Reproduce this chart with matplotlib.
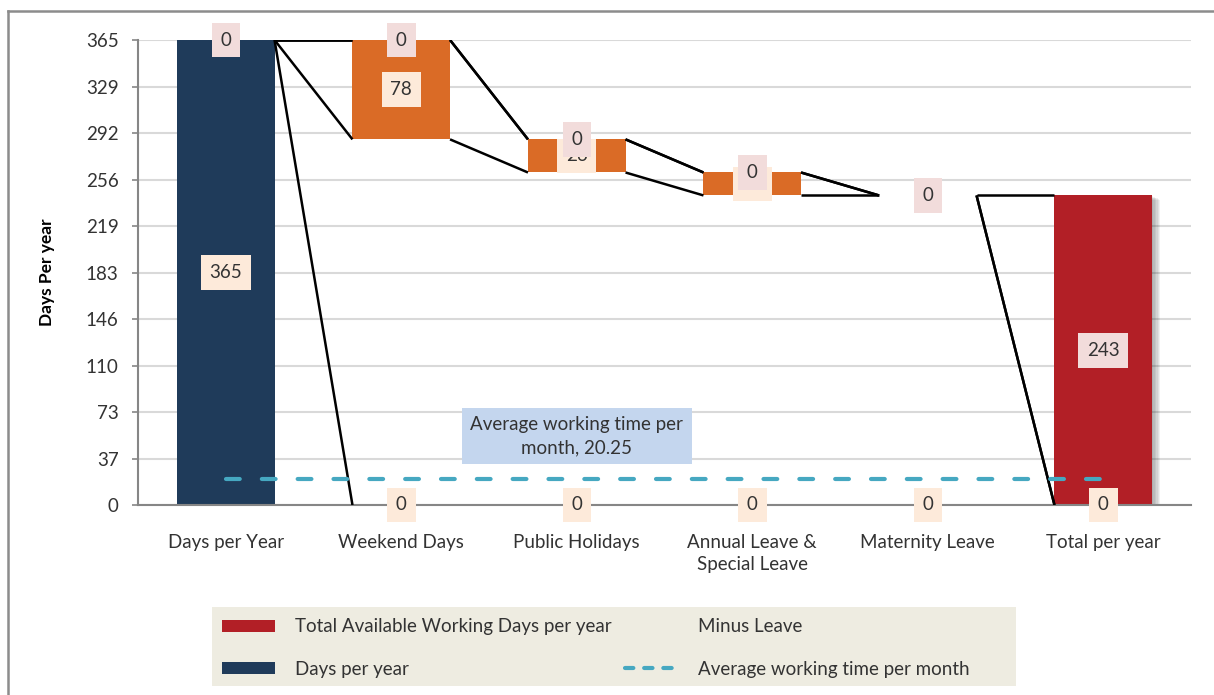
import numpy as np
import matplotlib
matplotlib.use("Agg")
import matplotlib.pyplot as plt
from matplotlib.patches import Patch, Rectangle
from matplotlib.lines import Line2D
import matplotlib.patheffects as pe

plt.rcParams['font.family'] = ['Lato', 'DejaVu Sans']

# chart data
categories = ["Days per Year", "Weekend Days", "Public Holidays",
              "Annual Leave &\nSpecial Leave", "Maternity Leave", "Total per year"]
days_per_year = [365, 0, 0, 0, 0, 0]
minus_leave = [0, 78, 26, 18, 0, 0]
total_available = [0, 0, 0, 0, 0, 243]
avg_month = 20.25
tick_values = [0, 36.5, 73, 109.5, 146, 182.5, 219, 255.5, 292, 328.5, 365]
tick_labels = ["0", "37", "73", "110", "146", "183", "219", "256", "292", "329", "365"]

NAVY = "#1F3B5A"
ORANGE = "#DA6B26"
RED = "#B21F26"
TEAL = "#46A8C1"
PEACH = "#FDEADA"
PINK = "#F2DCDB"
TXT = "#333333"
FS = 13.5

W, H = 1214, 695

# invisible base that the leave bars float on
remaining = days_per_year[0]
base = []
for i in range(len(categories)):
    if 0 < i < len(categories) - 1:
        remaining -= minus_leave[i]
        base.append(remaining)
    else:
        base.append(0)

x = np.arange(len(categories))
width = 0.556

fig = plt.figure(figsize=(W / 100, H / 100), dpi=100)
ax = fig.add_axes([138 / W, 1 - 505 / H, (1191 - 138) / W, 465 / H])

ax.set_xlim(-0.5, len(categories) - 0.5)
ax.set_ylim(0, 365)

# stacked series
navy = np.array(days_per_year, float)
orange_bottom = navy + np.array(base)
ax.bar(x, navy, width, color=NAVY, zorder=2)
ax.bar(x, minus_leave, width, bottom=orange_bottom, color=ORANGE, zorder=2)
red_bottom = orange_bottom + np.array(minus_leave)
shadow = [pe.SimplePatchShadow(offset=(d, -d * 0.5), shadow_rgbFace="#000000", alpha=0.06)
          for d in (1, 2, 3, 4, 5, 6)]
ax.bar(x, total_available, width, bottom=red_bottom, color=RED, zorder=2,
       path_effects=shadow + [pe.Normal()])

# series lines between neighbouring columns
tops = [navy, orange_bottom, red_bottom, red_bottom + np.array(total_available)]
for t in tops:
    for i in range(len(x) - 1):
        if t[i] == 0 and t[i + 1] == 0:
            continue
        ax.plot([x[i] + width / 2, x[i + 1] - width / 2], [t[i], t[i + 1]],
                color="black", lw=1.8, zorder=3, solid_capstyle="butt")

# average line
ax.plot([x[0], x[-1]], [avg_month, avg_month], color=TEAL, lw=3.0,
        dashes=(3.3, 5.3), dash_capstyle="round", zorder=5)
ax.text(2, 54, "Average working time per\nmonth, 20.25", ha="center", va="center",
        fontsize=FS, color=TXT, linespacing=1.4, zorder=6,
        bbox=dict(boxstyle="square,pad=0.45", fc="#C4D6EE", ec="none"))

# data labels
def label(xp, yp, s, fc):
    ax.text(xp, yp, s, ha="center", va="center", fontsize=FS, color=TXT, zorder=7,
            bbox=dict(boxstyle="square,pad=0.47", fc=fc, ec="none"))

label(x[0], navy[0] / 2, f"{days_per_year[0]}", PEACH)
for i in range(1, len(x) - 1):
    if minus_leave[i]:
        label(x[i], orange_bottom[i] + minus_leave[i] / 2, f"{minus_leave[i]}", PEACH)
for i in range(1, len(x)):
    label(x[i], 0, "0", PEACH)
label(x[-1], red_bottom[-1] + total_available[-1] / 2, f"{total_available[-1]}", PINK)
for i in range(len(x) - 1):
    label(x[i], red_bottom[i], "0", PINK)

# axes styling
ax.set_yticks(tick_values)
ax.set_yticklabels(tick_labels)
ax.set_xticks(x)
ax.set_xticklabels(categories, linespacing=1.35)
ax.yaxis.grid(True, color="#D9D9D9", lw=1.5, zorder=0)
ax.set_axisbelow(True)
for s in ["top", "right"]:
    ax.spines[s].set_visible(False)
for s in ["left", "bottom"]:
    ax.spines[s].set_color("#868686")
    ax.spines[s].set_linewidth(1.5)
ax.tick_params(axis="y", length=4, width=1.2, color="#868686", pad=10,
               labelsize=FS, labelcolor=TXT)
ax.tick_params(axis="x", length=0, pad=21, labelsize=FS, labelcolor=TXT)
ax.set_ylabel("Days Per year", fontsize=12.5, fontweight="bold", color="black")
ax.yaxis.set_label_coords(-(138 - 55) / 1053, 0.5)

# legend panel
fig.add_artist(Rectangle((212 / W, 1 - 686 / H), (1016 - 212) / W, 79 / H,
                         transform=fig.transFigure, fc="#EEECE1", ec="none", zorder=1))
handles = [Patch(fc=RED, ec="none"), Patch(fc=NAVY, ec="none"),
           Patch(fc="none", ec="none"),
           Line2D([], [], color=TEAL, lw=3.0, dashes=(2.0, 2.6), dash_capstyle="round")]
labels = ["Total Available Working Days per year", "Days per year",
          "Minus Leave", "Average working time per month"]
leg = fig.legend(handles, labels, ncol=2, loc="center left",
                 bbox_to_anchor=(222 / W, 1 - 648 / H),
                 fontsize=FS, frameon=False,
                 handlelength=2.83, handleheight=0.65, handletextpad=1.05,
                 labelspacing=1.35, columnspacing=0.75, borderpad=0, borderaxespad=0)
leg.set_zorder(2)
for t in leg.get_texts():
    t.set_color(TXT)

# outer chart frame
fig.add_artist(Line2D([8 / W, 8 / W], [0, 1 - 10.5 / H], color="#8C8C8C",
                      lw=1.8, transform=fig.transFigure))
fig.add_artist(Line2D([8 / W, 1], [1 - 10.5 / H, 1 - 10.5 / H], color="#8C8C8C",
                      lw=1.8, transform=fig.transFigure))

fig.savefig("out.png", dpi=100)
